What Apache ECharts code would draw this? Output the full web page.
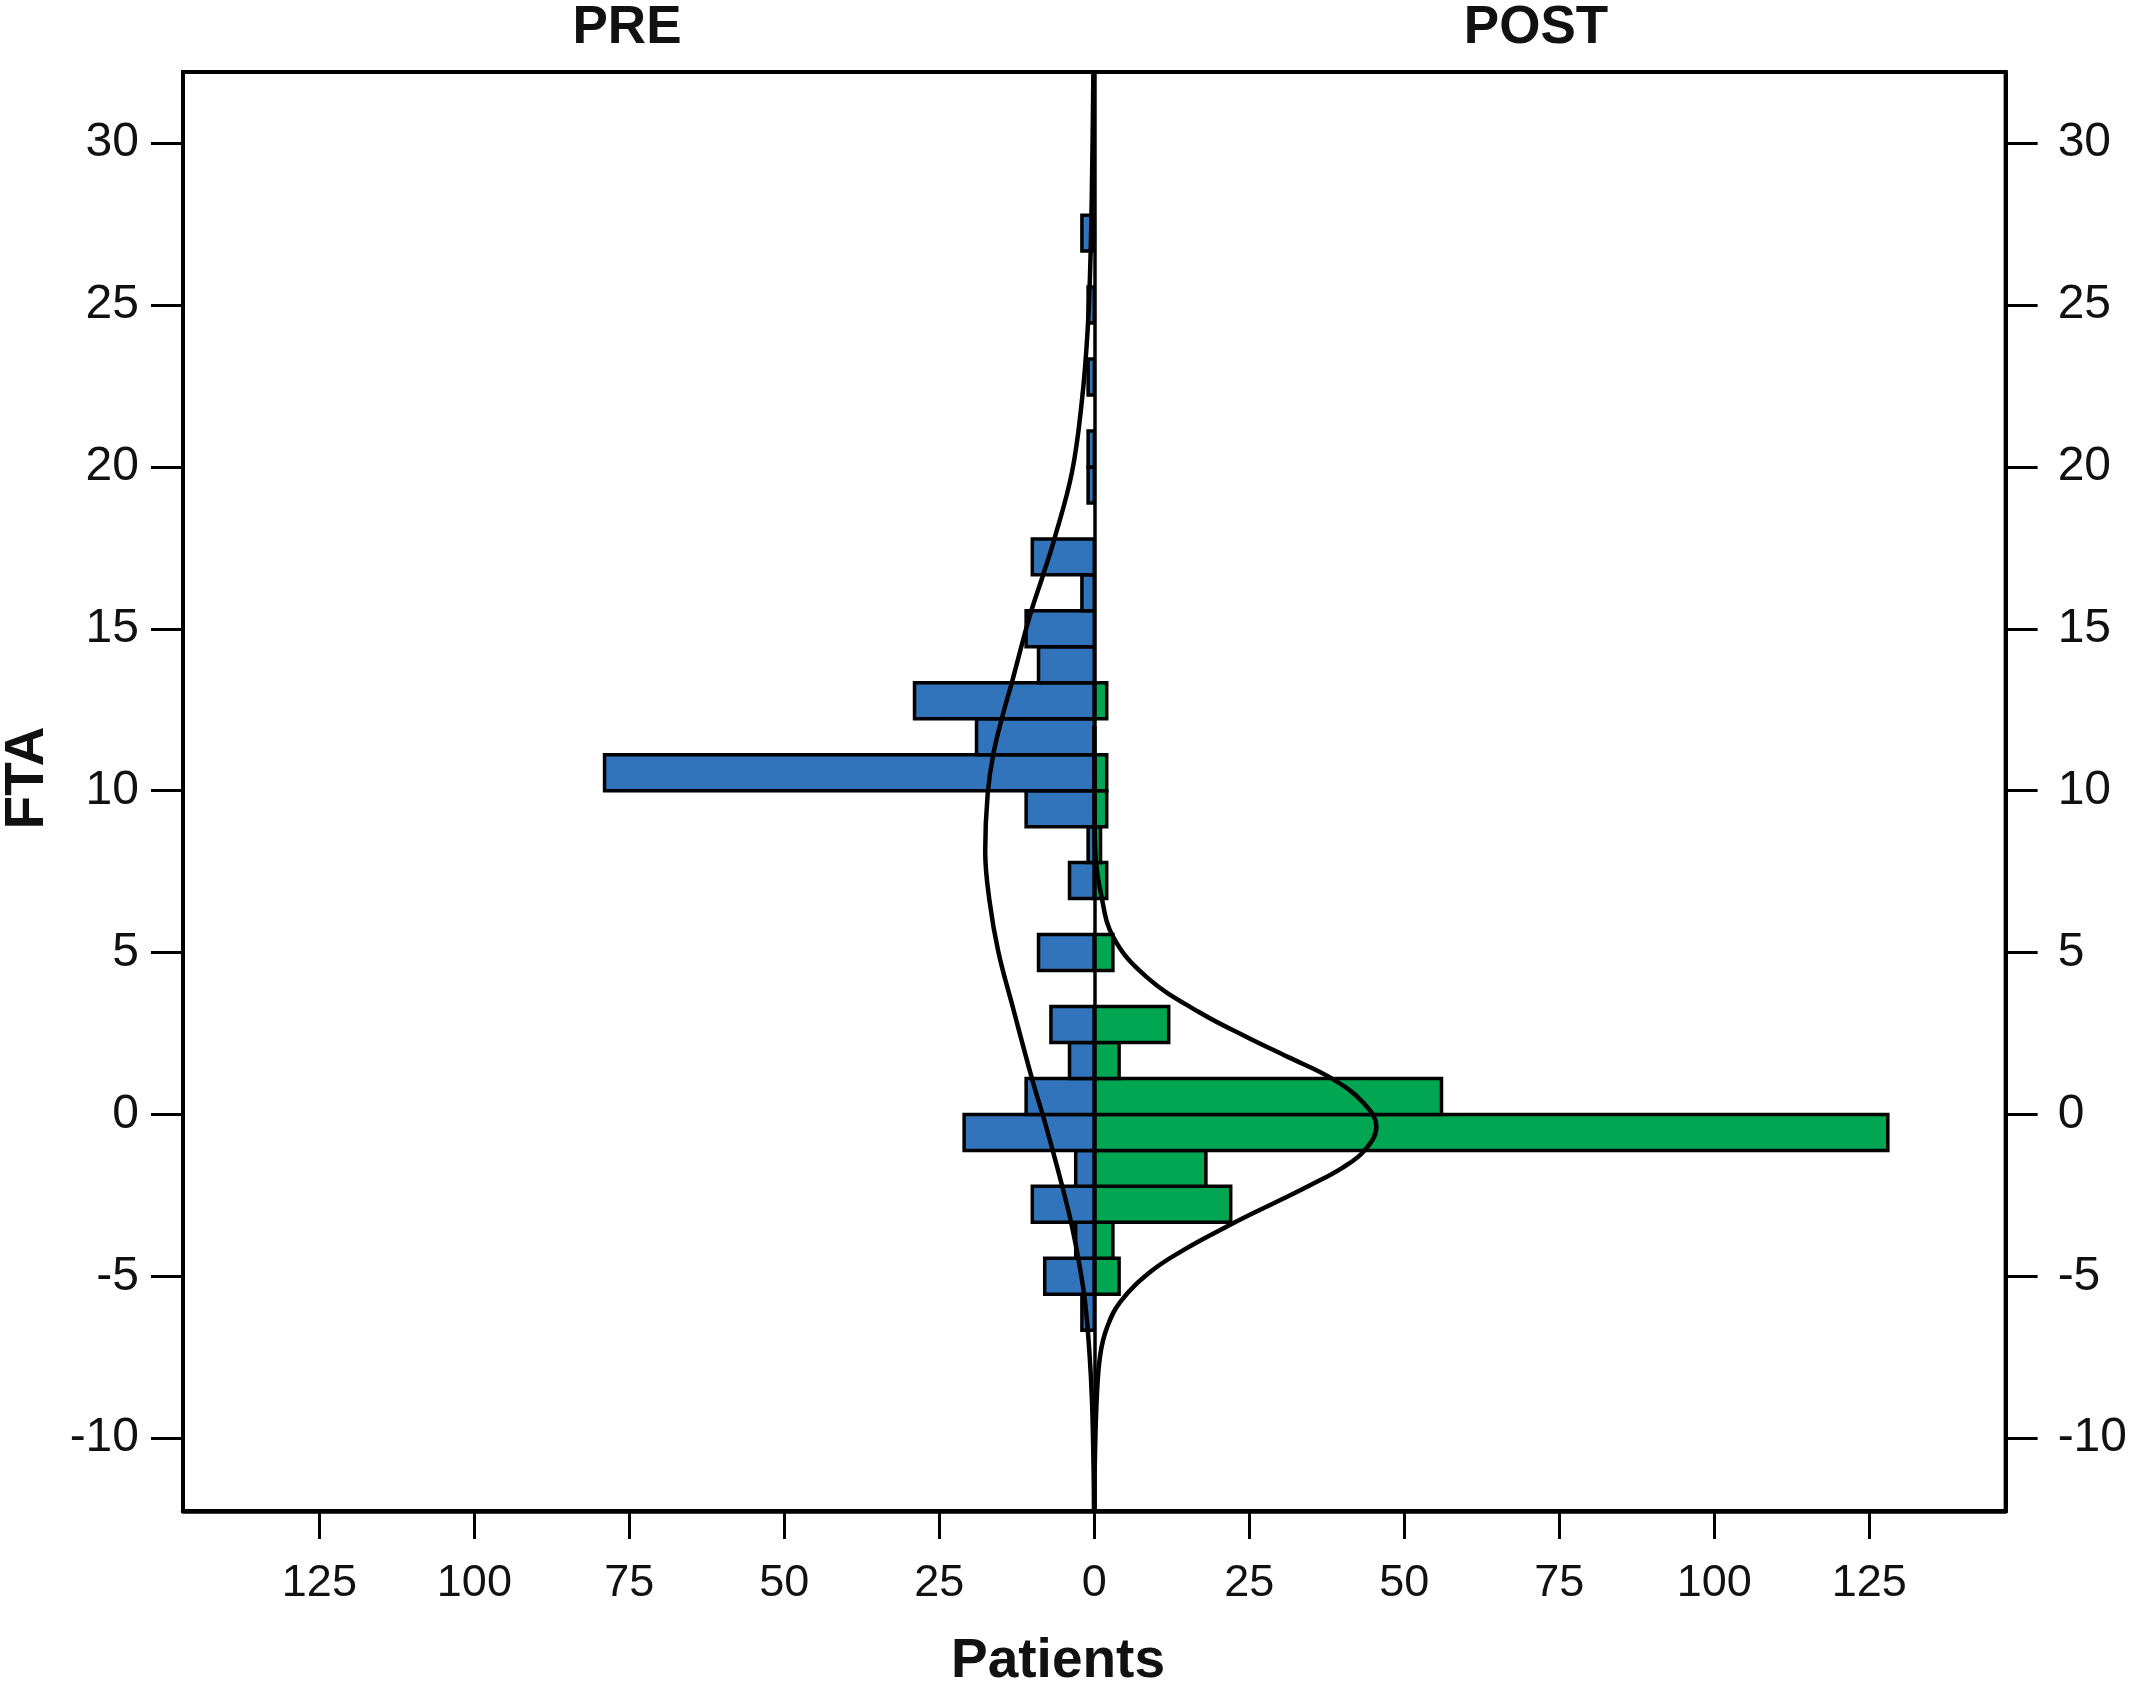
<!DOCTYPE html>
<html>
<head>
<meta charset="utf-8">
<script src="https://cdn.jsdelivr.net/npm/echarts@6/dist/echarts.min.js"></script>
<style>
html,body{margin:0;padding:0;background:#ffffff;}
#c{width:2130px;height:1695px;}
</style>
</head>
<body>
<div id="c"></div>
<script>
// Histogram bin edges (FTA), bin width 10/9
const binEdges = [-6.667, -5.556, -4.444, -3.333, -2.222, -1.111, 0, 1.111, 2.222, 3.333, 4.444, 5.556, 6.667, 7.778, 8.889, 10, 11.111, 12.222, 13.333, 14.444, 15.556, 16.667, 17.778, 18.889, 20, 21.111, 22.222, 23.333, 24.444, 25.556, 26.667, 27.778];
// Patients per bin
const preCounts  = [2, 8, 3, 10, 3, 21, 11, 4, 7, 0, 9, 0, 4, 1, 11, 79, 19, 29, 9, 11, 2, 10, 0, 1, 1, 0, 1, 0, 1, 0, 2];
const postCounts = [0, 4, 3, 22, 18, 128, 56, 4, 12, 0, 3, 0, 2, 1, 2, 2, 0, 2, 0, 0, 0, 0, 0, 0, 0, 0, 0, 0, 0, 0, 0];

// Fitted curves (FTA value, patients)
const preCurveFTA = [-12.25, -10.93, -8.87, -7.32, -5.78, -4.54, -3.46, -2.35, -1.19, -0.09, 1.07, 3.28, 5.04, 6.59, 8.14, 9.90, 11.12, 12.46, 13.27, 14.43, 15.53, 16.64, 17.77, 19.84, 22.05, 24.25, 26.57, 29.77, 32.2];
const preCurveN   = [0.05, 0.12, 0.37, 0.8, 1.5, 2.5, 3.6, 5.0, 6.6, 8.2, 10.0, 13.1, 15.5, 16.9, 17.6, 17.2, 16.3, 14.6, 13.4, 11.8, 10.2, 8.3, 6.45, 3.6, 2.0, 1.07, 0.6, 0.3, 0.15];
const postCurveFTA = [-12.25, -10.63, -8.62, -7.41, -6.61, -5.81, -4.87, -4.20, -3.53, -3.06, -2.59, -2.19, -1.65, -1.11, -0.38, 0.36, 1.10, 1.77, 2.37, 3.17, 4.25, 5.46, 6.79, 8.14, 10, 12];
const postCurveN   = [0.03, 0.1, 0.43, 0.97, 2.0, 4.1, 9.0, 14.3, 20.7, 25.5, 30.6, 34.8, 40.0, 43.6, 45.5, 43.4, 38.4, 31.3, 24.8, 16.8, 8.4, 3.1, 1.1, 0.15, 0.02, 0];

// Axis ticks
const yTicks = [-10, -5, 0, 5, 10, 15, 20, 25, 30];
const xTicks = [-125, -100, -75, -50, -25, 0, 25, 50, 75, 100, 125];

const FONT = 'Liberation Sans';
const chart = echarts.init(document.getElementById('c'), null, {renderer: 'canvas'});

function barSeries(name, counts, dir, color) {
  const data = [];
  counts.forEach((v, i) => { if (v > 0) data.push([dir * v, binEdges[i], binEdges[i + 1]]); });
  return {
    type: 'custom', name: name, data: data, z: 2,
    encode: {x: 0, y: [1, 2]},
    renderItem: function (params, api) {
      const v = api.value(0), lo = api.value(1), hi = api.value(2);
      const pA = api.coord([v, hi]);
      const pB = api.coord([0, lo]);
      const x = Math.min(pA[0], pB[0]);
      const w = Math.abs(pA[0] - pB[0]);
      const y = Math.min(pA[1], pB[1]);
      const h = Math.abs(pB[1] - pA[1]);
      return {type: 'rect', shape: {x: x, y: y, width: w, height: h},
              style: {fill: color, stroke: '#000', lineWidth: 3.5}};
    }
  };
}

function yAxisCfg(pos, margin) {
  return {
    type: 'value', position: pos, min: -12.25, max: 32.2,
    axisLine: {show: true, onZero: false, lineStyle: {color: '#000', width: 4}},
    splitLine: {show: false},
    axisTick: {show: true, customValues: yTicks, length: 32, lineStyle: {color: '#000', width: 3}},
    axisLabel: {customValues: yTicks, fontSize: 48, fontFamily: FONT, color: '#111', margin: margin}
  };
}

const option = {
  animation: false,
  backgroundColor: '#ffffff',
  grid: {left: 183, right: 124, top: 72, bottom: 184, show: true, borderColor: '#000', borderWidth: 4, backgroundColor: 'transparent'},
  xAxis: {
    type: 'value', min: -147, max: 147,
    axisLine: {show: true, onZero: false, lineStyle: {color: '#000', width: 4.5}},
    splitLine: {show: false},
    axisTick: {show: true, customValues: xTicks, length: 28, lineStyle: {color: '#000', width: 3}},
    axisLabel: {customValues: xTicks, formatter: v => String(Math.abs(v)), fontSize: 45, fontFamily: FONT, color: '#111', margin: 50}
  },
  yAxis: [yAxisCfg('left', 44), yAxisCfg('right', 52)],
  series: [
    barSeries('PRE', preCounts, -1, '#3274bb'),
    barSeries('POST', postCounts, 1, '#00a651'),
    {
      type: 'line', name: 'PRE fit', z: 3, showSymbol: false, smooth: 0.4,
      data: preCurveFTA.map((y, i) => [-preCurveN[i], y]),
      lineStyle: {color: '#000', width: 4.5},
      markLine: {silent: true, symbol: 'none', label: {show: false},
                 lineStyle: {color: '#000', width: 3.5, type: 'solid'}, data: [{xAxis: 0}]}
    },
    {
      type: 'line', name: 'POST fit', z: 3, showSymbol: false, smooth: 0.4,
      data: postCurveFTA.map((y, i) => [postCurveN[i], y]),
      lineStyle: {color: '#000', width: 4.5}
    }
  ],
  graphic: [
    {type: 'text', x: 627, y: 28, style: {text: 'PRE', font: 'bold 53px "Liberation Sans"', fill: '#111', textAlign: 'center', textVerticalAlign: 'middle'}},
    {type: 'text', x: 1536, y: 28, style: {text: 'POST', font: 'bold 53px "Liberation Sans"', fill: '#111', textAlign: 'center', textVerticalAlign: 'middle'}},
    {type: 'text', x: 1058, y: 1662, style: {text: 'Patients', font: 'bold 55px "Liberation Sans"', fill: '#111', textAlign: 'center', textVerticalAlign: 'middle'}},
    {type: 'text', x: 28, y: 778, rotation: Math.PI / 2, style: {text: 'FTA', font: 'bold 55px "Liberation Sans"', fill: '#111', textAlign: 'center', textVerticalAlign: 'middle'}}
  ]
};
chart.setOption(option);
</script>
</body>
</html>
